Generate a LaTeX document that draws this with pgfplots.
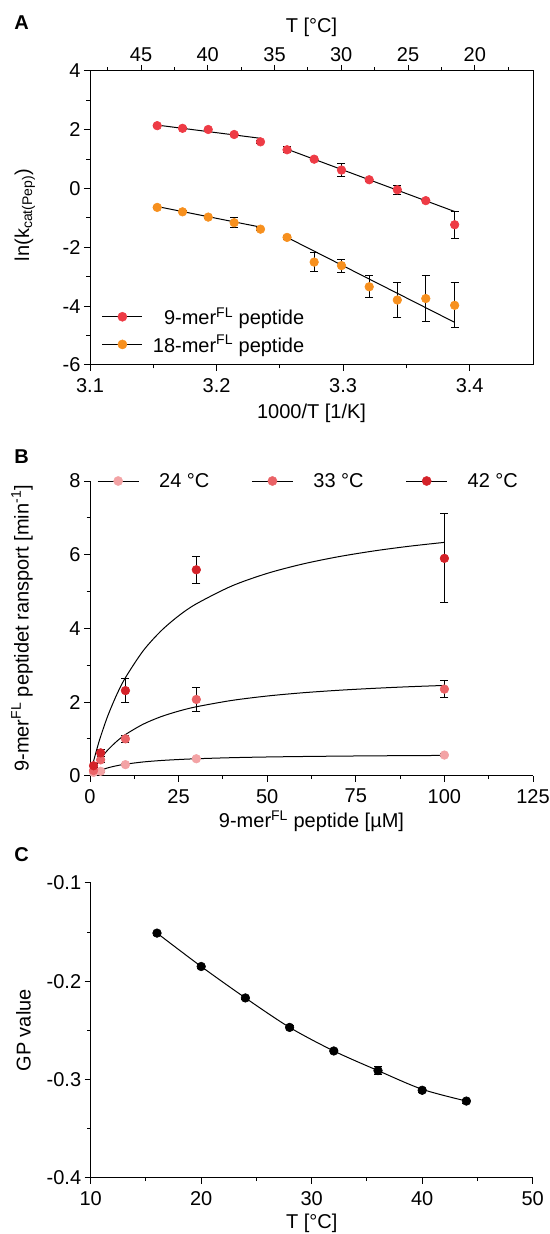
\documentclass[border=0pt]{standalone}
\usepackage{fontspec}
\setmainfont{Liberation Sans}
\usepackage{pgfplots}
\pgfplotsset{compat=1.18}
\definecolor{cnine}{HTML}{EE3B45}
\definecolor{ceight}{HTML}{F7901E}
\definecolor{cA}{HTML}{F3A3A5}
\definecolor{cB}{HTML}{EA6266}
\definecolor{cC}{HTML}{D42229}
\newcommand{\fs}{\fontsize{20}{24}\selectfont}
\pgfplotsset{
  myaxis/.style={
    scale only axis, anchor=south west,
    tick align=outside, major tick length=6pt, minor tick length=3.5pt,
    tick style={black, line width=1pt},
    axis line style={line width=1pt},
    /pgf/number format/assume math mode=true,
    tick label style={font=\fs},
    label style={font=\fs},
    legend style={font=\fs},
    clip=false,
  },
  eb/.style={error bars/y dir=both, error bars/y explicit,
    error bars/error bar style={black, line width=1pt},
    error bars/error mark options={rotate=90, black, mark size=4pt, line width=1pt}},
  dot/.style={only marks, mark=*, mark size=4.3pt, mark options={fill=#1, draw=#1, line width=0.6pt}},
}
\begin{document}
\begin{tikzpicture}
\path[use as bounding box] (0pt,0pt) rectangle (549pt,1234pt);
\node[font=\fs\bfseries] at (21.7pt,1211.2pt) {A};
\node[font=\fs\bfseries] at (21.7pt,777pt) {B};
\node[font=\fs\bfseries] at (21.7pt,379pt) {C};

% ---------------- Panel A ----------------
\begin{axis}[myaxis, at={(90pt,869pt)}, width=443pt, height=294pt,
  xmin=3.1, xmax=3.45, ymin=-6, ymax=4,
  xtick={3.1,3.2,3.3,3.4}, ytick={-6,-4,-2,0,2,4},
  minor x tick num=1, minor y tick num=1,
  xtick pos=left, ytick pos=left, xticklabel shift=4pt,
  xlabel={1000/T [1/K]}, ylabel={ln(k\textsubscript{cat(Pep)})},
  xlabel style={at={(axis description cs:0.5,-0.163)}, anchor=center},
  ylabel style={at={(axis description cs:-0.147,0.51)}, anchor=center},
  legend cell align=right,
  legend style={at={(axis description cs:0.0264,0.117)}, anchor=west, draw=none, fill=none,
    inner sep=0pt, row sep=9pt, nodes={inner sep=0pt},
    /tikz/every odd column/.append style={column sep=10pt}},
]
\addplot[black, line width=1pt, forget plot] coordinates {(3.1531,2.16) (3.2347,1.71)};
\addplot[black, line width=1pt, forget plot] coordinates {(3.2557,1.34) (3.3881,-0.78)};
\addplot[black, line width=1pt, forget plot] coordinates {(3.1531,-0.61) (3.2347,-1.31)};
\addplot[black, line width=1pt, forget plot] coordinates {(3.2557,-1.66) (3.3881,-4.55)};
\addplot[dot=cnine, eb, legend image code/.code={\draw[black,line width=1pt] (0pt,0pt) -- (40pt,0pt); \fill[cnine] (20pt,0pt) circle (4.6pt);}]
 coordinates {
 (3.1531,2.14) +- (0,0.04)
 (3.1731,2.05) +- (0,0.04)
 (3.1934,2.01) +- (0,0.04)
 (3.2139,1.84) +- (0,0.05)
 (3.2347,1.59) +- (0,0.04)
 (3.2557,1.32) +- (0,0.10)
 (3.2771,1.00) +- (0,0.05)
 (3.2987,0.63) +- (0,0.21)
 (3.3206,0.30) +- (0,0.05)
 (3.3428,-0.04) +- (0,0.16)
 (3.3653,-0.41) +- (0,0.05)
 (3.3881,-1.23) +- (0,0.46)
 };
\addlegendentry{9-mer\textsuperscript{FL} peptide}
\addplot[dot=ceight, eb, legend image code/.code={\draw[black,line width=1pt] (0pt,0pt) -- (40pt,0pt); \fill[ceight] (20pt,0pt) circle (4.6pt);}]
 coordinates {
 (3.1531,-0.64) +- (0,0.04)
 (3.1731,-0.79) +- (0,0.04)
 (3.1934,-0.97) +- (0,0.05)
 (3.2139,-1.16) +- (0,0.18)
 (3.2347,-1.38) +- (0,0.05)
 (3.2557,-1.66) +- (0,0.06)
 (3.2771,-2.50) +- (0,0.32)
 (3.2987,-2.62) +- (0,0.22)
 (3.3206,-3.34) +- (0,0.38)
 (3.3428,-3.79) +- (0,0.58)
 (3.3653,-3.74) +- (0,0.79)
 (3.3881,-3.97) +- (0,0.77)
 };
\addlegendentry{18-mer\textsuperscript{FL} peptide}
\end{axis}
\begin{axis}[myaxis, at={(90pt,869pt)}, width=443pt, height=294pt,
  xmin=3.1, xmax=3.45, ymin=-6, ymax=4,
  axis x line*=top, axis y line=none,
  xtick={3.1403,3.1930,3.2458,3.2985,3.3513,3.4040},
  xticklabels={45,40,35,30,25,20},
  minor xtick={3.1139,3.1667,3.2194,3.2722,3.3249,3.3776,3.4304},
  xlabel={T [°C]},
  xlabel style={at={(axis description cs:0.5,1.15)}, anchor=center},
]
\end{axis}

% ---------------- Panel B ----------------
\begin{axis}[myaxis, at={(90pt,458.3pt)}, width=443pt, height=294.7pt,
  xmin=0, xmax=125, ymin=0, ymax=8,
  axis x line*=bottom, axis y line*=left, xticklabel shift=4pt,
  xtick={0,25,50,75,100,125}, ytick={0,2,4,6,8},
  minor x tick num=1, minor y tick num=1,
  xlabel={9-mer\textsuperscript{FL} peptide [µM]},
  ylabel={9-mer\textsuperscript{FL} peptidet ransport [min\textsuperscript{-1}]},
  xlabel style={at={(axis description cs:0.5,-0.154)}, anchor=center},
  ylabel style={at={(axis description cs:-0.1535,0.5)}, anchor=center},
  legend columns=3,
  legend style={at={(axis description cs:0.0158,1.0)}, anchor=west, draw=none, fill=none,
    inner sep=0pt, nodes={inner sep=0pt},
    /tikz/every odd column/.append style={column sep=20pt},
    /tikz/every even column/.append style={column sep=42pt}},
]
\addplot[black, line width=1pt, smooth, forget plot] coordinates {
 (0.5,0.031) (1,0.059) (2,0.107) (3,0.148) (5,0.212) (7.5,0.270) (10,0.313) (15,0.373)
 (20,0.412) (25,0.439) (30,0.460) (40,0.489) (50,0.508) (60,0.521) (70,0.531) (80,0.539) (90,0.545) (100,0.550)};
\addplot[black, line width=1pt, smooth, forget plot] coordinates {
 (0.5,0.089) (1,0.173) (2,0.327) (3,0.463) (5,0.696) (7.5,0.929) (10,1.117) (15,1.398)
 (20,1.601) (25,1.752) (30,1.871) (40,2.043) (50,2.163) (60,2.251) (70,2.318) (80,2.371) (90,2.415) (100,2.450)};
\addplot[black, line width=1pt, smooth, forget plot] coordinates {
 (0.5,0.201) (1,0.392) (2,0.744) (3,1.064) (5,1.619) (7.5,2.191) (10,2.662) (15,3.390)
 (20,3.926) (25,4.339) (30,4.665) (40,5.150) (50,5.492) (60,5.746) (70,5.943) (80,6.100) (90,6.228) (100,6.334)};
\addplot[dot=cA, eb, legend image code/.code={\draw[black,line width=1pt] (0pt,0pt) -- (41pt,0pt); \fill[cA] (20.5pt,0pt) circle (4.6pt);}]
 coordinates {(1,0.09) +- (0,0.02) (3,0.12) +- (0,0.02) (10,0.30) +- (0,0.03) (30,0.46) +- (0,0.03) (100,0.56) +- (0,0.05)};
\addlegendentry{24 °C}
\addplot[dot=cB, eb, legend image code/.code={\draw[black,line width=1pt] (0pt,0pt) -- (41pt,0pt); \fill[cB] (20.5pt,0pt) circle (4.6pt);}]
 coordinates {(1,0.14) +- (0,0.03) (3,0.43) +- (0,0.08) (10,1.00) +- (0,0.10) (30,2.07) +- (0,0.33) (100,2.35) +- (0,0.24)};
\addlegendentry{33 °C}
\addplot[dot=cC, eb, legend image code/.code={\draw[black,line width=1pt] (0pt,0pt) -- (41pt,0pt); \fill[cC] (20.5pt,0pt) circle (4.6pt);}]
 coordinates {(1,0.27) +- (0,0.05) (3,0.62) +- (0,0.10) (10,2.31) +- (0,0.32) (30,5.59) +- (0,0.37) (100,5.90) +- (0,1.21)};
\addlegendentry{42 °C}
\end{axis}

% ---------------- Panel C ----------------
\begin{axis}[myaxis, at={(90.7pt,56.3pt)}, width=442pt, height=294.7pt,
  xmin=10, xmax=50, ymin=-0.4, ymax=-0.1,
  axis x line*=bottom, axis y line*=left, xticklabel shift=4pt,
  xtick={10,20,30,40,50}, ytick={-0.4,-0.3,-0.2,-0.1},
  yticklabels={-0.4,-0.3,-0.2,-0.1},
  minor x tick num=1, minor y tick num=1,
  xlabel={T [°C]}, ylabel={GP value},
  xlabel style={at={(axis description cs:0.5,-0.154)}, anchor=center},
  ylabel style={at={(axis description cs:-0.152,0.5)}, anchor=center},
]
\addplot[black, line width=1pt, smooth] coordinates {
 (16,-0.151) (20,-0.185) (24,-0.217) (28,-0.247) (32,-0.271) (36,-0.291) (40,-0.310) (44,-0.322)};
\addplot[dot=black, eb] coordinates {
 (16,-0.151) +- (0,0.002) (20,-0.185) +- (0,0.002) (24,-0.217) +- (0,0.002) (28,-0.247) +- (0,0.002)
 (32,-0.271) +- (0,0.002) (36,-0.291) +- (0,0.004) (40,-0.311) +- (0,0.002) (44,-0.322) +- (0,0.002)};
\end{axis}
\end{tikzpicture}
\end{document}
